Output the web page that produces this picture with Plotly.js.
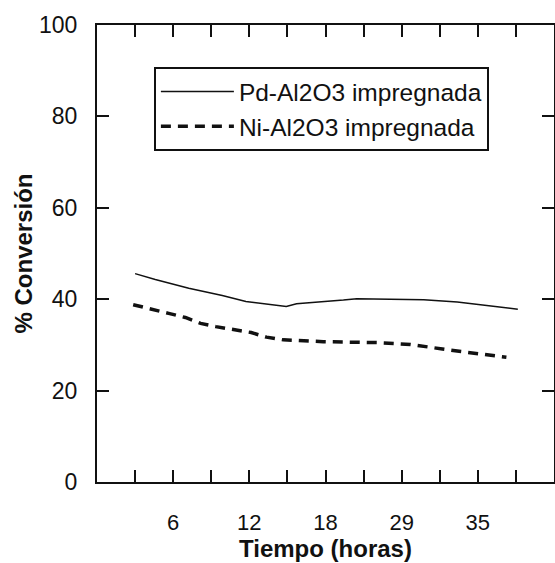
<!DOCTYPE html>
<html>
<head>
<meta charset="utf-8">
<script src="https://cdn.plot.ly/plotly-3.0.1.min.js"></script>
<style>html,body{margin:0;padding:0;background:#fff;}#chart{width:555px;height:563px;}</style>
</head>
<body>
<div id="chart"></div>
<script>
// Tick positions (index along the time axis) and their labels (hours)
const tickIndex = [1, 2, 3, 4, 5, 6, 7, 8, 9, 10, 11];
const labelIndex = [2, 4, 6, 8, 10];
const labelText = ['6', '12', '18', '29', '35'];

// Pd-Al2O3 impregnada (solid)
const pdX = [1.0, 1.53, 2.41, 3.29, 3.91, 4.35, 4.97, 5.24, 5.94, 6.47, 6.82, 8.58, 9.46, 10.34, 11.05];
const pdY = [45.6, 44.3, 42.4, 40.8, 39.5, 39.0, 38.4, 39.0, 39.4, 39.8, 40.1, 39.9, 39.4, 38.6, 37.8];

// Ni-Al2O3 impregnada (dashed)
const niX = [0.95, 1.49, 1.88, 2.32, 2.72, 3.12, 3.56, 4.05, 4.45, 4.89, 5.94, 7.35, 8.23, 8.67, 9.07, 9.51, 9.91, 10.3, 10.75];
const niY = [38.8, 37.8, 36.9, 36.0, 34.7, 34.0, 33.3, 32.7, 31.7, 31.1, 30.7, 30.5, 30.1, 29.5, 29.1, 28.6, 28.2, 27.7, 27.3];

const traces = [
  {x: pdX, y: pdY, type: 'scatter', mode: 'lines', name: 'Pd-Al2O3 impregnada',
   line: {color: '#111', width: 1.5}},
  {x: niX, y: niY, type: 'scatter', mode: 'lines', name: 'Ni-Al2O3 impregnada',
   line: {color: '#111', width: 3.5, dash: '10px,7px'}}
];

const layout = {
  width: 555, height: 563,
  margin: {l: 97, r: 1, t: 25, b: 81},
  paper_bgcolor: '#fff', plot_bgcolor: '#fff',
  font: {family: 'Liberation Sans, Arial, sans-serif', color: '#111'},
  showlegend: true,
  legend: {
    x: 0.1245, y: 0.908, xanchor: 'left', yanchor: 'top',
    bgcolor: '#fff', bordercolor: '#111', borderwidth: 2,
    font: {size: 24.5, family: 'Liberation Sans, Arial, sans-serif', color: '#111'},
    itemwidth: 73, tracegroupgap: 0,
    entrywidth: 335, entrywidthmode: 'pixels'
  },
  xaxis: {
    range: [0, 12], showgrid: false, zeroline: false,
    showline: true, linecolor: '#111', linewidth: 2, mirror: 'ticks',
    tickmode: 'array', tickvals: labelIndex, ticktext: labelText,
    ticks: 'inside', ticklen: 12, tickwidth: 2, tickcolor: '#111',
    minor: {tickmode: 'array', tickvals: tickIndex, ticks: 'inside', ticklen: 12, tickwidth: 2, tickcolor: '#111', showgrid: false},
    tickfont: {size: 22, color: '#111'},
    ticklabelstandoff: 20,
    title: {text: 'Tiempo (horas)', font: {size: 24, family: 'Liberation Sans, Arial, sans-serif', weight: 'bold', color: '#111'}, standoff: 4}
  },
  yaxis: {
    range: [0, 100], showgrid: false, zeroline: false,
    showline: true, linecolor: '#111', linewidth: 2, mirror: 'ticks',
    tickmode: 'array', tickvals: [0, 20, 40, 60, 80, 100],
    ticks: 'inside', ticklen: 12, tickwidth: 2, tickcolor: '#111',
    tickfont: {size: 23, color: '#111'},
    ticklabelstandoff: 13,
    title: {text: '% Conversión', font: {size: 24, family: 'Liberation Sans, Arial, sans-serif', weight: 'bold', color: '#111'}, standoff: 0}
  }
};

Plotly.newPlot('chart', traces, layout, {staticPlot: true, displayModeBar: false});
</script>
</body>
</html>
